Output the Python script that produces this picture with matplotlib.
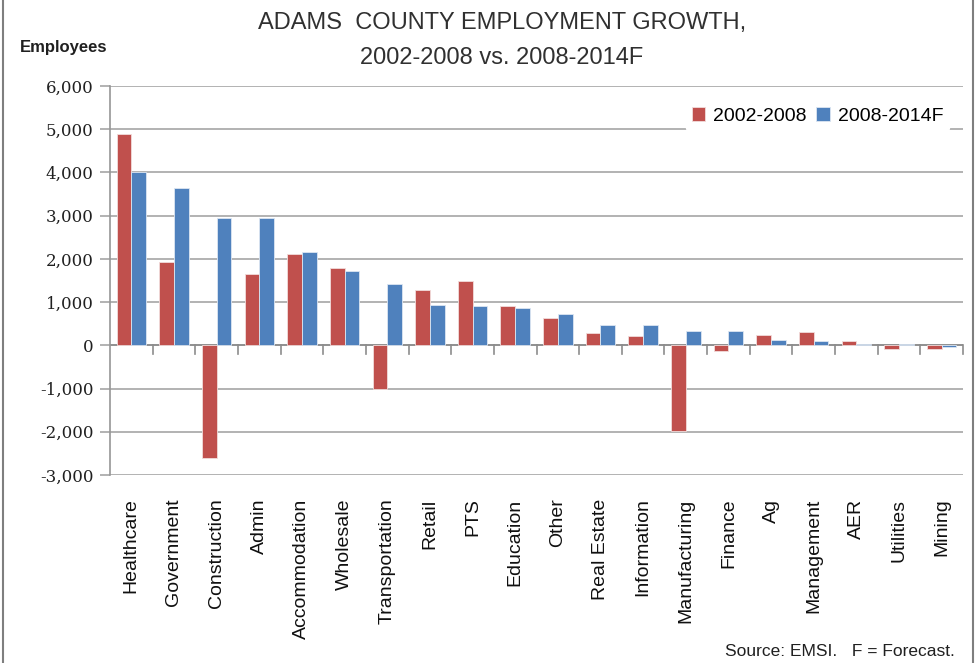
import matplotlib
matplotlib.use("Agg")
import matplotlib.pyplot as plt
import numpy as np
from matplotlib.patches import Rectangle

categories = ["Healthcare", "Government", "Construction", "Admin", "Accommodation",
              "Wholesale", "Transportation", "Retail", "PTS", "Education", "Other",
              "Real Estate", "Information", "Manufacturing", "Finance", "Ag",
              "Management", "AER", "Utilities", "Mining"]
growth_2002_2008 = [4880, 1930, -2600, 1640, 2120, 1790, -1020, 1290, 1490, 920,
                    630, 280, 220, -1980, -140, 250, 300, 90, -80, -80]
growth_2008_2014f = [4000, 3650, 2950, 2950, 2150, 1730, 1430, 930, 900, 870,
                     720, 460, 460, 340, 340, 120, 90, 40, 40, -40]
yticks = [-3000, -2000, -1000, 0, 1000, 2000, 3000, 4000, 5000, 6000]

fam = ["Liberation Sans", "DejaVu Sans"]
plt.rcParams["font.family"] = fam

fig = plt.figure(figsize=(9.76, 6.63), dpi=100)
ax = fig.add_axes([0.1127, 0.2836, 0.874, 0.5867])

x = np.arange(len(categories))
w = 0.345
ax.bar(x - w / 2, growth_2002_2008, w, color="#C0504D", edgecolor="#F2DCDB",
       linewidth=0.6, label="2002-2008", zorder=3)
ax.bar(x + w / 2, growth_2008_2014f, w, color="#4F81BD", edgecolor="#DCE6F2",
       linewidth=0.6, label="2008-2014F", zorder=3)

ax.set_xlim(-0.5, len(categories) - 0.5)
ax.set_ylim(-3000, 6000)
ax.set_yticks(yticks)
ax.set_yticklabels([f"{v:,}" for v in yticks], fontsize=12, color="#202020",
                   family=["DejaVu Serif"])
ax.yaxis.grid(True, color="#a6a6a6", linewidth=1.2, zorder=0)
ax.tick_params(axis="y", length=7, width=1.2, color="#a6a6a6", pad=5)

for s in ["top", "right", "bottom"]:
    ax.spines[s].set_visible(False)
ax.spines["left"].set_color("#969696")
ax.spines["left"].set_linewidth(1.2)
ax.axhline(0, color="#8c8c8c", linewidth=1.2, zorder=2)

# x tick marks between categories on the zero line
ax.set_xticks([])
for b in np.arange(0.5, len(categories) - 0.5 + 1e-9, 1.0):
    ax.plot([b, b], [0, -200], color="#8c8c8c", linewidth=1.2, zorder=2, clip_on=False)

# category labels rotated below plot
for i, c in enumerate(categories):
    ax.annotate(c, xy=(i, 0), xycoords=("data", "axes fraction"),
                xytext=(0, -17), textcoords="offset points",
                rotation=90, ha="center", va="top", fontsize=14, color="#101010")

leg = ax.legend(loc="upper right", bbox_to_anchor=(0.995, 0.985), ncol=2,
                frameon=True, fontsize=14, handlelength=0.7, handleheight=0.7,
                handletextpad=0.4, columnspacing=0.5, borderpad=0.3)
leg.get_frame().set_edgecolor("white")
leg.get_frame().set_facecolor("white")
leg.get_frame().set_alpha(1)
leg.set_zorder(5)

fig.text(0.514, 0.965, "ADAMS  COUNTY EMPLOYMENT GROWTH,", ha="center", va="center",
         fontsize=17, color="#303030")
fig.text(0.514, 0.913, "2002-2008 vs. 2008-2014F", ha="center", va="center",
         fontsize=17, color="#303030")
fig.text(0.02, 0.928, "Employees", ha="left", va="center", fontsize=12,
         fontweight="bold", color="#202020")
fig.text(0.978, 0.018, "Source: EMSI.   F = Forecast.", ha="right", va="center",
         fontsize=12.5, color="#202020")

fig.patches.append(Rectangle((0.003, -0.01), 0.994, 1.03, transform=fig.transFigure,
                             fill=False, edgecolor="#7f7f7f", linewidth=1.5))

fig.savefig("out.png", dpi=100)
